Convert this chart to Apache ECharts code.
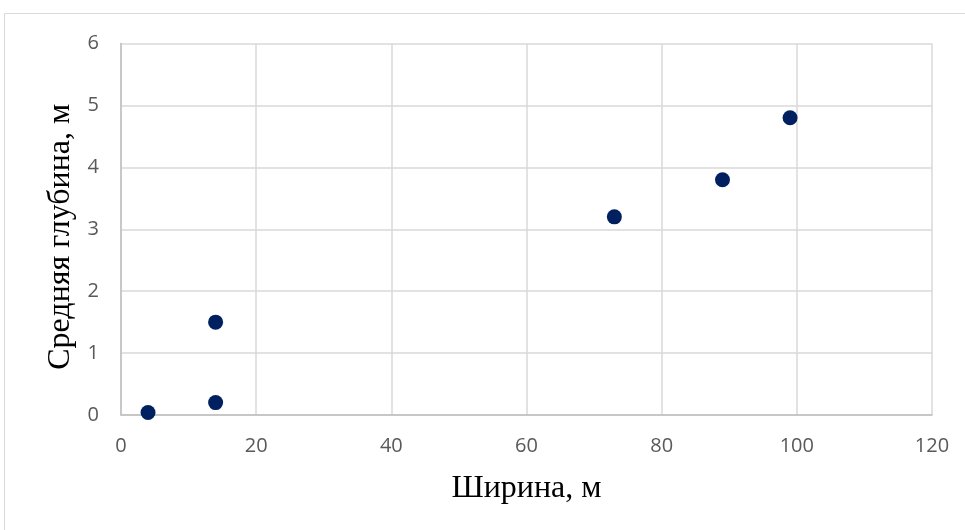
<!DOCTYPE html>
<html>
<head>
<meta charset="utf-8">
<script src="https://cdn.jsdelivr.net/npm/echarts@6/dist/echarts.min.js"></script>
<style>
  html, body { margin: 0; padding: 0; background: #fff; }
  #chart { width: 965px; height: 530px; }
</style>
</head>
<body>
<div id="chart"></div>
<script>
// Ширина реки (м) и средняя глубина (м) по створам
const widths = [4, 14, 14, 73, 89, 99];
const depths = [0.04, 0.2, 1.5, 3.2, 3.8, 4.8];
const xTicks = [0, 20, 40, 60, 80, 100, 120];
const yTicks = [0, 1, 2, 3, 4, 5, 6];

const points = widths.map((w, i) => [w, depths[i]]);

const chart = echarts.init(document.getElementById('chart'), null, { renderer: 'canvas' });
const tickFont = { color: '#595959', fontSize: 20, fontFamily: 'Open Sans, Noto Sans, sans-serif' };
const titleFont = { color: '#000', fontSize: 32, fontFamily: 'Liberation Serif, Times New Roman, serif' };

chart.setOption({
  animation: false,
  backgroundColor: '#fff',
  graphic: [{
    type: 'rect',
    shape: { x: 4.5, y: 13.5, width: 975, height: 540 },
    style: { fill: 'none', stroke: '#d9d9d9', lineWidth: 1 },
    silent: true,
    z: -1
  }],
  grid: { left: 121, top: 43.5, right: 33, bottom: 115, containLabel: false },
  xAxis: {
    type: 'value',
    min: xTicks[0],
    max: xTicks[xTicks.length - 1],
    interval: xTicks[1] - xTicks[0],
    name: 'Ширина, м',
    nameLocation: 'middle',
    nameGap: 58,
    nameTextStyle: titleFont,
    axisLine: { show: true, lineStyle: { color: '#bfbfbf', width: 1.5 } },
    axisTick: { show: false },
    axisLabel: Object.assign({ margin: 21 }, tickFont),
    splitLine: { show: true, lineStyle: { color: '#d9d9d9', width: 1.5 } }
  },
  yAxis: {
    type: 'value',
    min: yTicks[0],
    max: yTicks[yTicks.length - 1],
    interval: yTicks[1] - yTicks[0],
    name: 'Средняя глубина, м',
    nameLocation: 'middle',
    nameGap: 43,
    nameTextStyle: Object.assign({ padding: [0, 15, 0, 0] }, titleFont),
    axisLine: { show: true, lineStyle: { color: '#bfbfbf', width: 1.5 } },
    axisTick: { show: false },
    axisLabel: Object.assign({ margin: 22 }, tickFont),
    splitLine: { show: true, lineStyle: { color: '#d9d9d9', width: 1.5 } }
  },
  series: [{
    type: 'scatter',
    data: points,
    symbol: 'circle',
    symbolSize: 15,
    itemStyle: { color: '#002060', opacity: 1 }
  }]
});
</script>
</body>
</html>
